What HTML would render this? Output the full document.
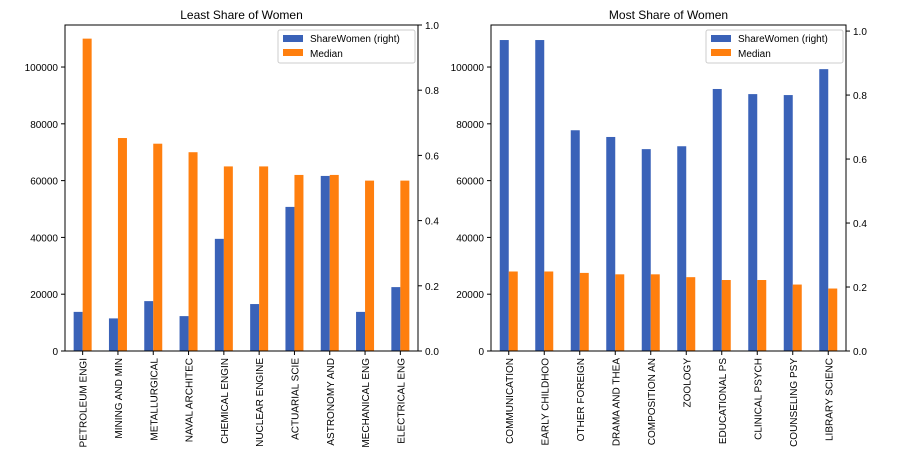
<!DOCTYPE html>
<html><head><meta charset="utf-8"><style>
body{margin:0;background:#fff;font-family:"Liberation Sans",sans-serif}
svg text{font-family:"Liberation Sans",sans-serif;fill:#000}
</style></head><body>
<svg id="c" width="901" height="461"></svg>
<script>
const leftCats=["PETROLEUM ENGI","MINING AND MIN","METALLURGICAL","NAVAL ARCHITEC","CHEMICAL ENGIN","NUCLEAR ENGINE","ACTUARIAL SCIE","ASTRONOMY AND","MECHANICAL ENG","ELECTRICAL ENG"];
const leftShare=[0.12,0.10,0.153,0.107,0.344,0.144,0.442,0.537,0.12,0.196];
const leftMedian=[110000,75000,73000,70000,65000,65000,62000,62000,60000,60000];
const rightCats=["COMMUNICATION","EARLY CHILDHOO","OTHER FOREIGN","DRAMA AND THEA","COMPOSITION AN","ZOOLOGY","EDUCATIONAL PS","CLINICAL PSYCH","COUNSELING PSY","LIBRARY SCIENC"];
const rightShare=[0.972,0.972,0.69,0.669,0.631,0.64,0.819,0.803,0.8,0.881];
const rightMedian=[28000,28000,27500,27000,27000,26000,25000,25000,23400,22000];
const leftTicks=[0,20000,40000,60000,80000,100000];
const rightTicksL=[0,0.2,0.4,0.6,0.8,1.0];
const rightTicksR=[0,0.2,0.4,0.6,0.8,1.0];
const NS="http://www.w3.org/2000/svg";
const svg=document.getElementById('c');
function el(t,a,p){const e=document.createElementNS(NS,t);for(const k in a)e.setAttribute(k,a[k]);(p||svg).appendChild(e);return e;}
function panel(x0,x1,title,cats,share,med,shareMax,rTicks,prefix){
  const y0=351,y1=25,medMax=114800;
  const g=el('g',{});
  
  
  const ym=v=>y0-(v/medMax)*(y0-y1);
  const ys=v=>y0-(v/shareMax)*(y0-y1);
  const step=(x1-x0)/cats.length;
  cats.forEach((c,i)=>{
    const cx=x0+step*(i+0.5);
    const b=el('rect',{x:cx-9,y:ys(share[i]),width:9,height:y0-ys(share[i]),fill:'#3a62b8'},g);
    
    
    const o=el('rect',{x:cx,y:ym(med[i]),width:9,height:y0-ym(med[i]),fill:'#ff7f0e'},g);
    
    
    el('line',{x1:cx,x2:cx,y1:y0,y2:y0+4,stroke:'#000'},g);
    const t=el('text',{x:0,y:0,'font-size':10,'text-anchor':'end',transform:`translate(${cx+4},${y0+7}) rotate(-90)`},g);
    t.textContent=c;
    
    
  });
  leftTicks.forEach(v=>{
    el('line',{x1:x0-4,x2:x0,y1:ym(v),y2:ym(v),stroke:'#000'},g);
    const t=el('text',{x:x0-7,y:ym(v)+4,'font-size':10,'text-anchor':'end'},g);t.textContent=v;
    
    
  });
  rTicks.forEach(v=>{
    el('line',{x1:x1,x2:x1+4,y1:ys(v),y2:ys(v),stroke:'#000'},g);
    const t=el('text',{x:x1+7,y:ys(v)+4,'font-size':10},g);t.textContent=v.toFixed(1);
    
    
  });
  el('rect',{x:x0,y:y1,width:x1-x0,height:y0-y1,fill:'none',stroke:'#000','stroke-width':1},g);
  const tt=el('text',{x:(x0+x1)/2,y:19,'font-size':12,'text-anchor':'middle'},g);tt.textContent=title;
  
  
  const lx=x1-140,ly=30;
  const lg=el('g',{},g);
  
  
  el('rect',{x:lx,y:ly,width:137,height:33,fill:'#fff',stroke:'#ccc',rx:2},lg);
  el('rect',{x:lx+5,y:ly+5,width:20,height:7,fill:'#3a62b8'},lg);
  el('rect',{x:lx+5,y:ly+19,width:20,height:7,fill:'#ff7f0e'},lg);
  const a=el('text',{x:lx+32,y:ly+12,'font-size':10},lg);a.textContent='ShareWomen (right)';
  const m=el('text',{x:lx+32,y:ly+27,'font-size':10},lg);m.textContent='Median';
}
panel(65,418,'Least Share of Women',leftCats,leftShare,leftMedian,1.0,rightTicksL,'left');
panel(491,846,'Most Share of Women',rightCats,rightShare,rightMedian,1.019,rightTicksR,'right');
</script>
</body></html>
